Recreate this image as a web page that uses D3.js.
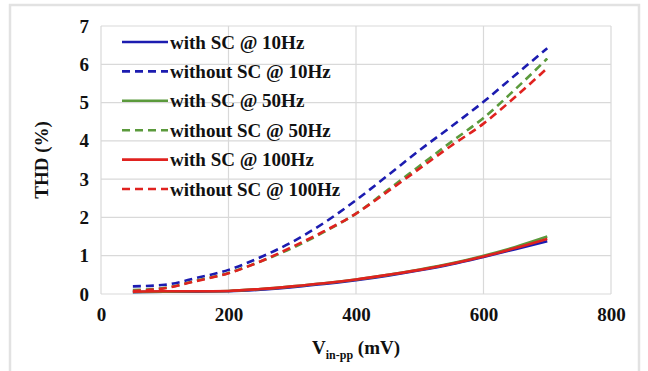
<!DOCTYPE html>
<html>
<head>
<meta charset="utf-8">
<script src="https://cdn.jsdelivr.net/npm/d3@7"></script>
<style>
  body { margin: 0; background: #fff; font-family: "Liberation Serif"; }
  svg { display: block; }
</style>
</head>
<body>
<svg id="chart"></svg>
<script>
const width = 648;
const height = 371;
const margin = { top: 26, right: 37, bottom: 77, left: 101 };

const vin = [50, 100, 150, 200, 250, 300, 350, 400, 450, 500, 550, 600, 650, 700];
const withSC10 = [0.05, 0.06, 0.06, 0.07, 0.11, 0.18, 0.26, 0.36, 0.48, 0.62, 0.78, 0.97, 1.17, 1.38];
const withoutSC10 = [0.2, 0.24, 0.42, 0.63, 0.96, 1.36, 1.86, 2.45, 3.1, 3.76, 4.38, 5.02, 5.72, 6.42];
const withSC50 = [0.05, 0.06, 0.07, 0.08, 0.13, 0.2, 0.28, 0.38, 0.5, 0.64, 0.8, 1.0, 1.23, 1.5];
const withoutSC50 = [0.1, 0.16, 0.35, 0.55, 0.85, 1.2, 1.62, 2.1, 2.72, 3.35, 3.98, 4.6, 5.35, 6.15];
const withSC100 = [0.06, 0.07, 0.07, 0.08, 0.13, 0.2, 0.28, 0.38, 0.5, 0.63, 0.79, 0.98, 1.2, 1.44];
const withoutSC100 = [0.08, 0.15, 0.34, 0.54, 0.85, 1.23, 1.64, 2.1, 2.68, 3.28, 3.88, 4.45, 5.15, 5.9];

const xTicks = [0, 200, 400, 600, 800];
const yTicks = [0, 1, 2, 3, 4, 5, 6, 7];

const series = [
  { name: "with SC @ 10Hz", values: withSC10, color: "#1c1cb0", dashed: false },
  { name: "without SC @ 10Hz", values: withoutSC10, color: "#1c1cb0", dashed: true },
  { name: "with SC @ 50Hz", values: withSC50, color: "#5b9a3c", dashed: false },
  { name: "without SC @ 50Hz", values: withoutSC50, color: "#5b9a3c", dashed: true },
  { name: "with SC @ 100Hz", values: withSC100, color: "#e0221f", dashed: false },
  { name: "without SC @ 100Hz", values: withoutSC100, color: "#e0221f", dashed: true }
];

const fs = 19;
const serif = "'Liberation Serif', 'Times New Roman', serif";

function styleText(sel) {
  sel.style("font-family", serif)
    .style("font-weight", "bold")
    .style("font-size", fs + "px")
    .style("fill", "#111");
}

const svg = d3.select("#chart").attr("width", width).attr("height", height);

// outer frame
svg.append("rect")
  .attr("x", 10).attr("y", 5)
  .attr("width", 629).attr("height", 372)
  .attr("fill", "#fff")
  .attr("stroke", "#e2e2e2")
  .attr("stroke-width", 2.5);

const x = d3.scaleLinear().domain([0, 800]).range([margin.left, width - margin.right]);
const y = d3.scaleLinear().domain([0, 7]).range([height - margin.bottom, margin.top]);

// grid
svg.append("g")
  .selectAll("line")
  .data(yTicks)
  .join("line")
  .attr("x1", x(0)).attr("x2", x(800))
  .attr("y1", d => y(d)).attr("y2", d => y(d))
  .attr("stroke", "#d9d9d9").attr("stroke-width", 1.2);

svg.append("g")
  .selectAll("line")
  .data(xTicks)
  .join("line")
  .attr("x1", d => x(d)).attr("x2", d => x(d))
  .attr("y1", y(0)).attr("y2", y(7))
  .attr("stroke", "#d9d9d9").attr("stroke-width", 1.2);

// axes (labels only)
const xAxis = svg.append("g")
  .attr("transform", `translate(0, ${y(0) + 10})`)
  .call(d3.axisBottom(x).tickValues(xTicks).tickFormat(d3.format("d")).tickSize(0).tickPadding(4));
xAxis.select(".domain").remove();
styleText(xAxis.selectAll("text"));

const yAxis = svg.append("g")
  .attr("transform", `translate(${x(0) - 12}, 0)`)
  .call(d3.axisLeft(y).tickValues(yTicks).tickFormat(d3.format("d")).tickSize(0).tickPadding(0));
yAxis.select(".domain").remove();
styleText(yAxis.selectAll("text"));

// axis titles
const xt = svg.append("text")
  .attr("x", 356).attr("y", 354)
  .attr("text-anchor", "middle")
  .call(styleText);
xt.append("tspan").text("V");
xt.append("tspan").style("font-size", "12px").attr("dy", 5).text("in-pp");
xt.append("tspan").attr("dy", -5).text(" (mV)");

svg.append("text")
  .attr("transform", `translate(48, ${y(3.5)}) rotate(-90)`)
  .attr("text-anchor", "middle")
  .call(styleText)
  .text("THD (%)");

// lines
const line = d3.line()
  .x((d, i) => x(vin[i]))
  .y(d => y(d))
  .curve(d3.curveMonotoneX);

svg.append("g")
  .selectAll("path")
  .data(series)
  .join("path")
  .attr("d", d => line(d.values))
  .attr("fill", "none")
  .attr("stroke", d => d.color)
  .attr("stroke-width", 2.6)
  .attr("stroke-dasharray", d => d.dashed ? "8,5" : null);

// legend
const legend = svg.append("g")
  .selectAll("g")
  .data(series)
  .join("g")
  .attr("transform", (d, i) => `translate(122, ${42 + i * 29.4})`);

legend.append("line")
  .attr("x1", 0).attr("x2", 46)
  .attr("stroke", d => d.color)
  .attr("stroke-width", 2.6)
  .attr("stroke-dasharray", d => d.dashed ? "8,5" : null);

legend.append("text")
  .attr("x", 48).attr("dy", "0.35em")
  .call(styleText)
  .text(d => d.name);
</script>
</body>
</html>
